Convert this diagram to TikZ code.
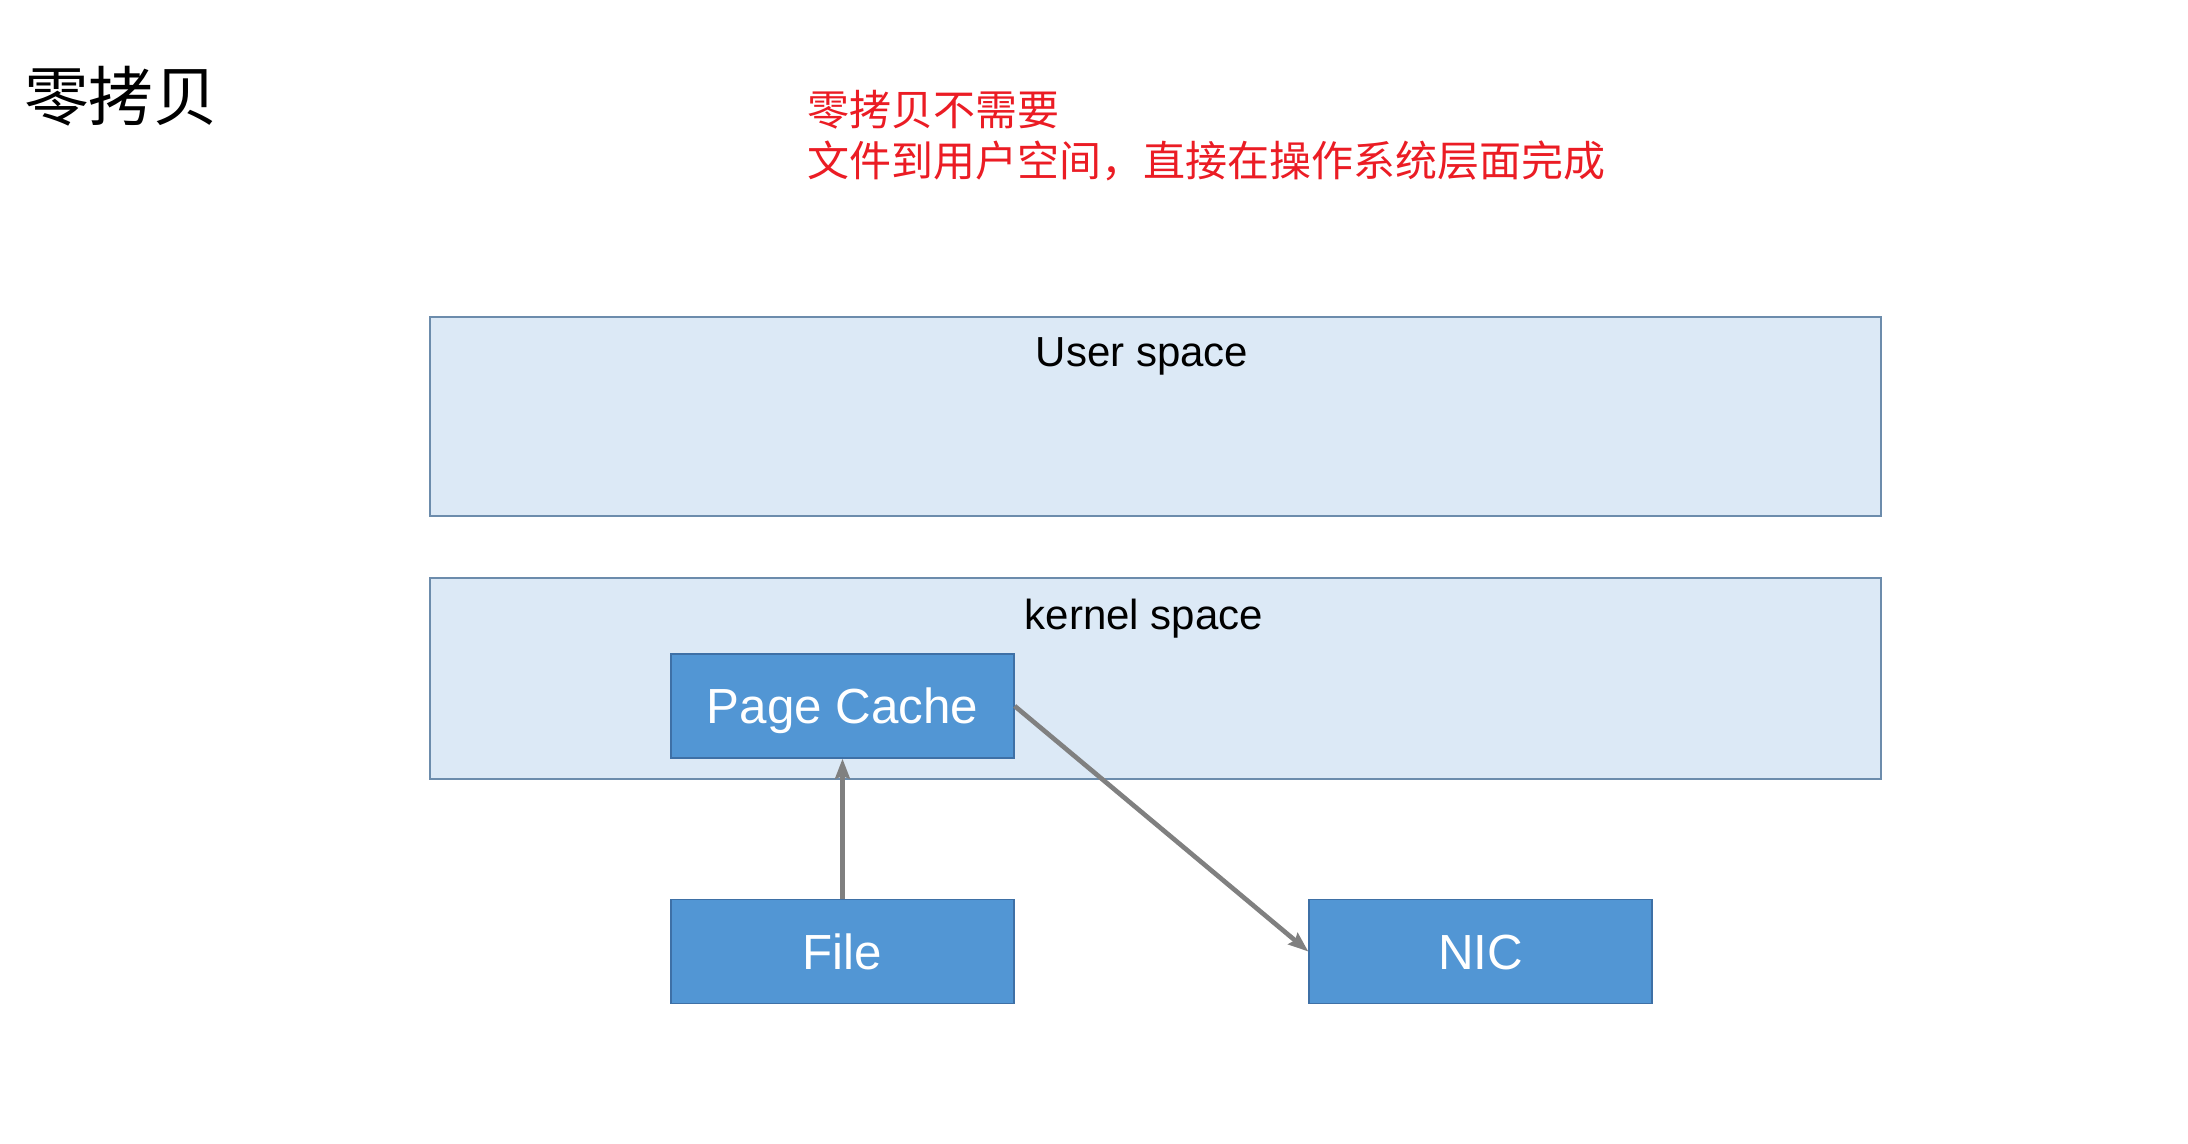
\documentclass[tikz,border=0pt]{standalone}
\usepackage{fontspec}
\setmainfont{Liberation Sans}
\newfontfamily\cjk{Noto Sans CJK SC}
\usetikzlibrary{arrows.meta}
\definecolor{cfill}{RGB}{220,233,246}
\definecolor{cborder}{RGB}{108,140,172}
\definecolor{bfill}{RGB}{82,150,212}
\definecolor{bborder}{RGB}{62,112,166}
\definecolor{agray}{RGB}{128,128,128}
\definecolor{notered}{RGB}{235,28,36}
\begin{document}
\begin{tikzpicture}[x=0.75pt,y=-0.75pt,
  container/.style={draw=cborder, fill=cfill, line width=1.4pt, inner sep=0pt},
  bluebox/.style={draw=bborder, fill=bfill, line width=1pt, inner sep=0pt,
    minimum width=257.25pt, minimum height=78pt, text=white,
    font=\fontsize{37pt}{44pt}\selectfont, text height=26.5pt, text depth=0pt},
  label/.style={inner sep=0pt, anchor=base, font=\fontsize{31.5pt}{38pt}\selectfont},
  flow/.style={draw=agray, line width=3.5pt, -{Stealth[length=15pt,width=11pt,inset=2pt]}}
]
\useasboundingbox[fill=white] (0,0) rectangle (2188,1143);

\node[anchor=base west, inner sep=0pt, font=\fontsize{48.5pt}{56pt}\selectfont\cjk] (title) at (24,120) {零拷贝};

\node[anchor=base west, inner sep=0pt, text=notered, font=\fontsize{31.5pt}{38pt}\selectfont\cjk] (note1) at (807,125) {零拷贝不需要};
\node[anchor=base west, inner sep=0pt, text=notered, font=\fontsize{31.5pt}{38pt}\selectfont\cjk] (note2) at (807,176) {文件到用户空间，直接在操作系统层面完成};

\node[container, minimum width=1088.25pt, minimum height=149.25pt] (user) at (1155.5,416.5) {};
\node[label] (userlbl) at (1142,366) {User space};

\node[container, minimum width=1088.25pt, minimum height=150.75pt] (kernel) at (1155.5,678.5) {};
\node[label] (kernellbl) at (1144,629) {kernel space};

\node[bluebox] (pc) at (842.5,706) {Page Cache};
\node[bluebox] (file) at (842.5,951.5) {File};
\node[bluebox] (nic) at (1480.5,951.5) {NIC};

\draw[flow] (file.north) -- (pc.south);
\draw[flow] (pc.east) -- (nic.west);
\end{tikzpicture}
\end{document}
